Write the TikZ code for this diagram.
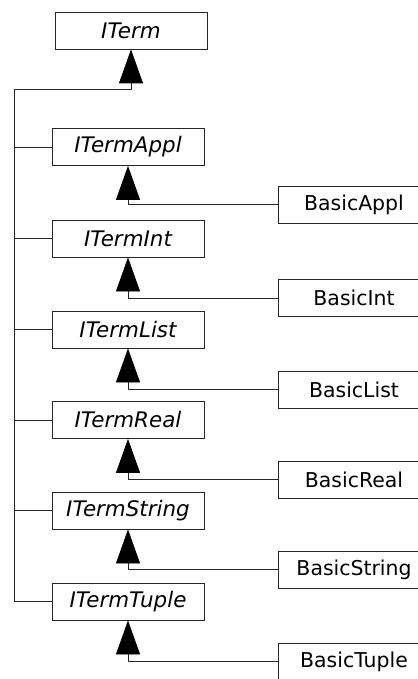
\documentclass[tikz,border=0pt]{standalone}
\usepackage{fontspec}
\setmainfont{DejaVu Sans}
\usetikzlibrary{arrows.meta}
\begin{document}
\begin{tikzpicture}[x=1bp,y=-1bp,
  cls/.style={draw=black!85,line width=0.8bp,fill=white,minimum width=152bp,minimum height=37bp,inner sep=0pt,font=\fontsize{20.5}{24}\selectfont},
  iface/.style={cls,font=\fontsize{21.5}{24}\selectfont\itshape},
  link/.style={draw=black!85,line width=0.8bp},
  inh/.style={link,-{Triangle[width=24bp,length=34bp,color=black,fill=black]}}]
\useasboundingbox (0,0) rectangle (417,679);
\node[iface] (ITerm) at (131,30.5) {ITerm};
\node[iface] (ITermAppl) at (128,147) {ITermAppl};
\node[iface] (ITermInt) at (128,238.5) {ITermInt};
\node[iface] (ITermList) at (128,329.5) {ITermList};
\node[iface] (ITermReal) at (128,420) {ITermReal};
\node[iface] (ITermString) at (128,510.5) {ITermString};
\node[iface] (ITermTuple) at (128,601.5) {ITermTuple};
\node[cls] (BasicAppl) at (354,204.5) {BasicAppl};
\node[cls] (BasicInt) at (354,298) {BasicInt};
\node[cls] (BasicList) at (354,389.5) {BasicList};
\node[cls] (BasicReal) at (354,479.5) {BasicReal};
\node[cls] (BasicString) at (354,569.5) {BasicString};
\node[cls] (BasicTuple) at (354,661.5) {BasicTuple};
\coordinate (trunktop) at (14,89);
\draw[inh] (ITermTuple.west) -| (trunktop) -| (ITerm.south);
\foreach \n in {ITermAppl,ITermInt,ITermList,ITermReal,ITermString}
  \draw[link] (\n.west) -- (\n.west -| trunktop);
\draw[inh] (BasicAppl.west) -| (ITermAppl.south);
\draw[inh] (BasicInt.west) -| (ITermInt.south);
\draw[inh] (BasicList.west) -| (ITermList.south);
\draw[inh] (BasicReal.west) -| (ITermReal.south);
\draw[inh] (BasicString.west) -| (ITermString.south);
\draw[inh] (BasicTuple.west) -| (ITermTuple.south);
\end{tikzpicture}
\end{document}
